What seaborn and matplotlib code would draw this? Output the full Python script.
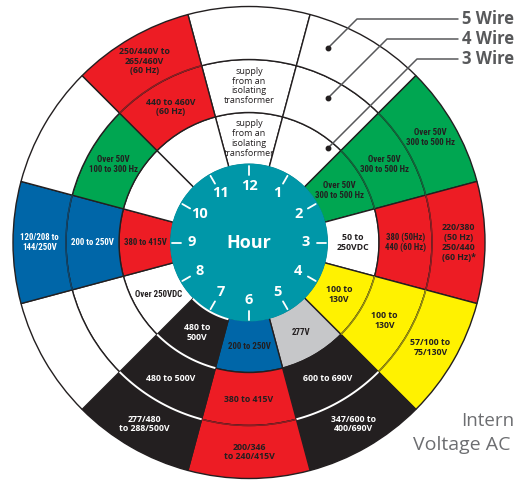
import numpy as np
import matplotlib
matplotlib.use('Agg')
import matplotlib.pyplot as plt
import seaborn as sns
from matplotlib import font_manager

# ---------------- data ----------------
hours = [12, 1, 2, 3, 4, 5, 6, 7, 8, 9, 10, 11]
ring_names = ['3 Wire', '4 Wire', '5 Wire']

wire3_colors = ['white', 'white', 'green', 'white', 'yellow', 'gray',
                'blue', 'black', 'white', 'red', 'white', 'white']
wire3_labels = ['supply\nfrom an\nisolating\ntransformer', '',
                'Over 50V\n300 to 500 Hz', '50 to\n250VDC', '100 to\n130V',
                '277V', '200 to 250V', '480 to\n500V', 'Over 250VDC',
                '380 to 415V', '', '']

wire4_colors = ['white', 'white', 'green', 'red', 'yellow', 'black',
                'red', 'black', 'white', 'blue', 'green', 'red']
wire4_labels = ['supply\nfrom an\nisolating\ntransformer', '',
                'Over 50V\n300 to 500 Hz', '380 (50Hz)\n440 (60 Hz)',
                '100 to\n130V', '600 to 690V', '380 to 415V', '480 to 500V',
                '', '200 to 250V', 'Over 50V\n100 to 300 Hz',
                '440 to 460V\n(60 Hz)']

wire5_colors = ['white', 'white', 'green', 'red', 'yellow', 'black',
                'red', 'black', 'white', 'blue', 'white', 'red']
wire5_labels = ['', '', 'Over 50V\n300 to 500 Hz',
                '220/380\n(50 Hz)\n250/440\n(60 Hz)*', '57/100 to\n75/130V',
                '347/600 to\n400/690V', '200/346\nto 240/415V',
                '277/480\nto 288/500V', '', '120/208 to\n144/250V', '',
                '250/440V to\n265/460V\n(60 Hz)']

center_label = 'Hour'
title_lines = ['Intern', 'Voltage AC']

# ---------------- style ----------------
sns.set_theme(style='white')
plt.rcParams['font.family'] = ['Open Sans', 'DejaVu Sans']

names = {f.name for f in font_manager.fontManager.ttflist}
cond_font = next((n for n in ['Roboto Condensed', 'Liberation Sans Narrow',
                              'Open Sans Condensed', 'DejaVu Sans Condensed']
                  if n in names), 'Roboto')

palette = {'white': '#ffffff', 'green': '#00a651', 'red': '#ed1c24',
           'yellow': '#fff200', 'gray': '#c6c7c9', 'blue': '#0066a8',
           'black': '#231f20'}
teal = '#0097a8'
dark = '#231f20'

condensed = {'Over 50V\n300 to 500 Hz', 'Over 50V\n100 to 300 Hz',
             '380 to 415V_in', '380 (50Hz)\n440 (60 Hz)', '277V',
             '200 to 250V', 'Over 250VDC', '120/208 to\n144/250V'}

W, H = 517, 483
cx, cy = 249, 242.5
R = 238
fig = plt.figure(figsize=(W / 100, H / 100), dpi=100)
ax = fig.add_axes([(cx - R) / W, (H - cy - R) / H, 2 * R / W, 2 * R / H],
                  projection='polar')
ax.set_theta_zero_location('N')
ax.set_theta_direction(-1)
ax.set_ylim(0, R)
ax.axis('off')

theta = np.deg2rad(np.arange(12) * 30.0)
width = np.deg2rad(30.0)
radii = [78, 130, 183, 236]
rings = [(wire3_colors, wire3_labels), (wire4_colors, wire4_labels),
         (wire5_colors, wire5_labels)]

for i, (cols, labs) in enumerate(rings):
    ax.bar(theta, radii[i + 1] - radii[i], width=width, bottom=radii[i],
           color=[palette[c] for c in cols], edgecolor=dark, linewidth=1.0,
           align='center', zorder=2)


def mix(c1, c2, t):
    a = np.array(matplotlib.colors.to_rgb(c1))
    b = np.array(matplotlib.colors.to_rgb(c2))
    return tuple(a * (1 - t) + b * t)


def arc(k, r, col, lw, z=3):
    th = np.linspace(theta[k] - width / 2, theta[k] + width / 2, 40)
    ax.plot(th, np.full_like(th, r), color=col, lw=lw, zorder=z,
            solid_capstyle='butt')


# boundaries between same coloured cells
for k in range(12):
    for i in range(2):
        c_in = rings[i][0][k]
        c_out = rings[i + 1][0][k]
        if c_in == c_out and c_in != 'white':
            if c_in == 'black':
                arc(k, radii[i + 1], 'white', 1.4)
            else:
                arc(k, radii[i + 1], mix(palette[c_in], dark, 0.45), 1.0)

# centre clock face
ax.bar(0, 79, width=2 * np.pi, bottom=0, color=teal, linewidth=0, zorder=4)
for k in range(12):
    if wire3_colors[k] == 'black':
        arc(k, 79.5, 'white', 1.4, z=5)
for k, h in enumerate(hours):
    ax.plot([theta[k], theta[k]], [68, 77], color='white', lw=1.3, zorder=5)
    ax.text(theta[k], 57, str(h), ha='center', va='center', color='white',
            fontsize=10.5, fontweight='bold', zorder=6)
ax.text(0, 0, center_label, ha='center', va='center', color='white',
        fontsize=13, fontweight='bold', zorder=6)

# cell labels
for i, (cols, labs) in enumerate(rings):
    mid = (radii[i] + radii[i + 1]) / 2
    for k in range(12):
        lab = labs[k]
        if not lab:
            continue
        c = cols[k]
        tcol = 'white' if (c == 'black' or (c == 'blue' and i > 0)) else dark
        key = lab + ('_in' if lab == '380 to 415V' and i == 0 else '')
        if key in condensed:
            fam, fs, fw = [cond_font, 'DejaVu Sans'], 6.4, 'semibold'
        else:
            fam, fs, fw = ['Open Sans', 'DejaVu Sans'], 6.3, 'bold'
        if lab.startswith('supply'):
            fw, fs = 'normal', 6.5
        ax.text(theta[k], mid, lab, ha='center', va='center', color=tcol,
                fontsize=fs, family=fam, fontweight=fw, linespacing=1.1,
                zorder=6)

# overlay for legend leaders and title
ov = fig.add_axes([0, 0, 1, 1], zorder=10)
ov.set_xlim(0, W)
ov.set_ylim(H, 0)
ov.axis('off')
ov.patch.set_alpha(0)
leader_col = '#58595b'
for name, dot_y, text_y in zip(ring_names, [148, 98, 48], [59, 39, 19]):
    elbow_x = 328 + (dot_y - text_y)
    ov.plot([328, elbow_x, 458], [dot_y, text_y, text_y], color=leader_col,
            lw=1.1)
    ov.plot(328, dot_y, 'o', color=dark, ms=3.2)
    ov.text(462, text_y, name, ha='left', va='center', color=leader_col,
            fontsize=12, fontweight='bold')

ov.text(514, 421, title_lines[0], ha='right', va='center', color='#6d6e71',
        fontsize=13.5)
ov.text(413, 445, title_lines[1], ha='left', va='center', color='#6d6e71',
        fontsize=14)

fig.savefig('out.png', dpi=100)
